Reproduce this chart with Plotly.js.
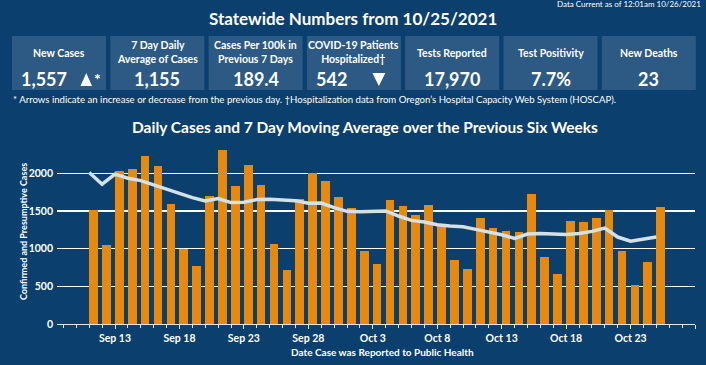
<!DOCTYPE html>
<html>
<head>
<meta charset="utf-8">
<script src="https://cdn.plot.ly/plotly-3.0.1.min.js"></script>
<style>
html,body{margin:0;padding:0;background:#0b3f6d;}
#chart{width:706px;height:365px;}
</style>
</head>
<body>
<div id="chart"></div>
<script>
// ---- data ----
const dates = [
 '2021-09-11','2021-09-12','2021-09-13','2021-09-14','2021-09-15','2021-09-16','2021-09-17','2021-09-18','2021-09-19','2021-09-20',
 '2021-09-21','2021-09-22','2021-09-23','2021-09-24','2021-09-25','2021-09-26','2021-09-27','2021-09-28','2021-09-29','2021-09-30',
 '2021-10-01','2021-10-02','2021-10-03','2021-10-04','2021-10-05','2021-10-06','2021-10-07','2021-10-08','2021-10-09','2021-10-10',
 '2021-10-11','2021-10-12','2021-10-13','2021-10-14','2021-10-15','2021-10-16','2021-10-17','2021-10-18','2021-10-19','2021-10-20',
 '2021-10-21','2021-10-22','2021-10-23','2021-10-24','2021-10-25'];
const dailyCases = [
 1510,1047,2032,2059,2223,2103,1597,998,772,1699,
 2303,1837,2116,1850,1060,719,1659,2005,1899,1686,
 1540,967,794,1646,1566,1446,1584,1318,852,728,
 1407,1273,1233,1220,1730,887,661,1367,1353,1407,
 1513,967,515,821,1557];
const movingAvg = [
 2010,1855,1988,1935,1903,1846,1779,1722,1677,1633,
 1664,1611,1615,1651,1655,1646,1637,1602,1606,1544,
 1495,1491,1500,1500,1433,1375,1353,1318,1300,1291,
 1256,1220,1185,1136,1194,1202,1198,1189,1202,1229,
 1273,1154,1100,1127,1155];
const kpiLabels = ['New Cases','7 Day Daily<br>Average of Cases','Cases Per 100k in<br>Previous 7 Days','COVID-19 Patients<br>Hospitalized\u2020','Tests Reported','Test Positivity','New Deaths'];
const kpiValues = ['1,557','1,155','189.4','542','17,970','7.7%','23'];
const kpiArrows = ['up','','','down','','',''];
const yTicks = [0,500,1000,1500,2000];

// ---- layout helpers ----
const W=706,H=365,ML=57,MR=11,MT=147,MB=41;
const PW=W-ML-MR, PH=H-MT-MB;
const fx = px => (px-ML)/PW;
const fy = py => (H-MB-py)/PH;
const BG='#0b3f6d', BOX='#2c5a85', WHITE='#ffffff';
const FONT='Lato, "Open Sans", sans-serif';

const shapes=[], ann=[];
const boxX0=12, boxW=94, boxStep=98.3, boxY0=36, boxY1=90;
function tri(xl,xr,yt,yb,up){
  const xm=(xl+xr)/2;
  const p = up ? `M${fx(xl)},${fy(yb)} L${fx(xr)},${fy(yb)} L${fx(xm)},${fy(yt)} Z`
               : `M${fx(xl)},${fy(yt)} L${fx(xr)},${fy(yt)} L${fx(xm)},${fy(yb)} Z`;
  return {type:'path',xref:'paper',yref:'paper',path:p,fillcolor:WHITE,line:{width:0}};
}
kpiLabels.forEach((lab,i)=>{
  const x0=boxX0+i*boxStep, x1=x0+boxW, cx=(x0+x1)/2;
  shapes.push({type:'rect',xref:'paper',yref:'paper',x0:fx(x0),x1:fx(x1),y0:fy(boxY1),y1:fy(boxY0),fillcolor:BOX,line:{width:0},layer:'below'});
  const twoLine = lab.indexOf('<br>')>=0;
  ann.push({xref:'paper',yref:'paper',x:fx(cx),y:fy(twoLine?52:53),text:'<b>'+lab+'</b>',showarrow:false,xanchor:'center',yanchor:'middle',
    font:{family:FONT,size:10.5,color:WHITE},align:'center'});
  if(kpiArrows[i]){
    ann.push({xref:'paper',yref:'paper',x:fx(x0+7),y:fy(79),text:'<b>'+kpiValues[i]+'</b>',showarrow:false,xanchor:'left',yanchor:'middle',
      font:{family:FONT,size:18,color:WHITE}});
    if(kpiArrows[i]==='up'){
      shapes.push(tri(x0+68.5,x0+80,73,86,true));
      ann.push({xref:'paper',yref:'paper',x:fx(x0+79.5),y:fy(78.5),text:'<b>*</b>',showarrow:false,xanchor:'left',yanchor:'middle',
        font:{family:FONT,size:16,color:WHITE}});
    } else {
      shapes.push(tri(x0+65.5,x0+78.5,73,86,false));
    }
  } else {
    ann.push({xref:'paper',yref:'paper',x:fx(cx),y:fy(79),text:'<b>'+kpiValues[i]+'</b>',showarrow:false,xanchor:'center',yanchor:'middle',
      font:{family:FONT,size:18,color:WHITE}});
  }
});
ann.push({xref:'paper',yref:'paper',x:fx(353),y:fy(18),text:'<b>Statewide Numbers from 10/25/2021</b>',showarrow:false,xanchor:'center',yanchor:'middle',font:{family:FONT,size:17,color:WHITE}});
ann.push({xref:'paper',yref:'paper',x:fx(703),y:fy(4),text:'Data Current as of 12:01am 10/26/2021',showarrow:false,xanchor:'right',yanchor:'middle',font:{family:FONT,size:8,color:WHITE}});
ann.push({xref:'paper',yref:'paper',x:fx(11),y:fy(100),text:'* Arrows indicate an increase or decrease from the previous day. \u2020Hospitalization data from Oregon\u2019s Hospital Capacity Web System (HOSCAP).',showarrow:false,xanchor:'left',yanchor:'middle',font:{family:FONT,size:9.6,color:WHITE}});
ann.push({xref:'paper',yref:'paper',x:fx(365),y:fy(127),text:'<b>Daily Cases and 7 Day Moving Average over the Previous Six Weeks</b>',showarrow:false,xanchor:'center',yanchor:'middle',font:{family:FONT,size:15.5,color:WHITE}});
ann.push({xref:'paper',yref:'paper',x:fx(23),y:fy(232),text:'<b>Confirmed and Presumptive Cases</b>',textangle:-90,showarrow:false,xanchor:'center',yanchor:'middle',font:{family:FONT,size:9,color:WHITE}});
ann.push({xref:'paper',yref:'paper',x:fx(382),y:fy(352),text:'<b>Date Case was Reported to Public Health</b>',showarrow:false,xanchor:'center',yanchor:'middle',font:{family:FONT,size:10,color:WHITE}});

const DAY=86400000;
const traces=[
 {type:'bar',x:dates,y:dailyCases,offset:0,width:0.67*DAY,marker:{color:'#e8890c',line:{width:0}},hoverinfo:'x+y',name:'Daily Cases'},
 {type:'scatter',mode:'lines',x:dates,y:movingAvg,line:{color:'#d4e2e8',width:3.5},name:'7 Day Moving Average'}
];
const layout={
  width:W,height:H,margin:{l:ML,r:MR,t:MT,b:MB,pad:0},
  paper_bgcolor:BG,plot_bgcolor:BG,showlegend:false,
  font:{family:FONT,color:WHITE},
  xaxis:{type:'date',range:['2021-09-08 12:00','2021-10-28 00:00'],tick0:'2021-09-13',dtick:5*DAY,tickformat:'%b %-d',
    ticks:'outside',ticklen:4,tickcolor:'#dfe6ec',tickwidth:1,showgrid:false,zeroline:false,
    showline:true,linecolor:'#dfe6ec',linewidth:1,
    minor:{dtick:DAY,tick0:'2021-09-09',ticks:'outside',ticklen:3,tickcolor:'#dfe6ec',tickwidth:1,showgrid:false},
    tickfont:{family:FONT,size:10.5,color:WHITE,weight:'bold'}},
  yaxis:{range:[0,2349],tickvals:yTicks,ticktext:yTicks.map(v=>'<b>'+v+'</b>'),showgrid:true,gridcolor:'#ffffff',gridwidth:1.5,
    zeroline:false,showline:false,ticks:'',ticklabelstandoff:3,
    tickfont:{family:FONT,size:10.5,color:WHITE,weight:'bold'}},
  bargap:0,shapes:shapes,annotations:ann
};
Plotly.newPlot('chart',traces,layout,{displayModeBar:false,staticPlot:true});
</script>
</body>
</html>
